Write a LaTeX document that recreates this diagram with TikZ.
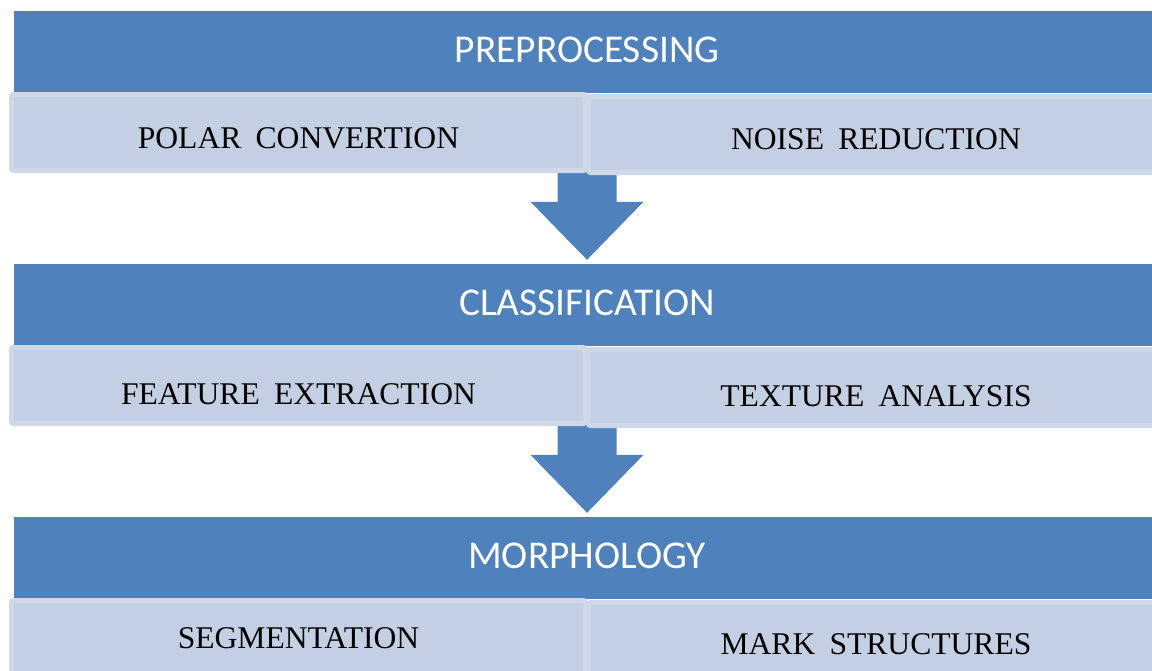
\documentclass[tikz,border=0pt]{standalone}
\usepackage{fontspec}
\setmainfont{Liberation Serif}
\newfontfamily\hdfont{Carlito}
\usetikzlibrary{calc}
\definecolor{bandblue}{HTML}{4F81BD}
\definecolor{subfill}{HTML}{C3CFE2}
\definecolor{subline}{HTML}{CFD8E8}
\tikzset{
  band/.style={fill=bandblue, inner sep=0pt, minimum width=1146pt, minimum height=82pt,
    text=white, font=\hdfont\fontsize{39.4}{39.4}\selectfont, text height=25pt, text depth=3.6pt},
  subbox/.style={draw=subline, line width=5pt, fill=subfill, rounded corners=2pt, inner sep=0pt,
    minimum height=76pt, font=\fontsize{31.6}{31.6}\selectfont, text height=#1, text depth=0pt},
  arrowfill/.style={fill=bandblue}
}
\newcommand\blockdownarrow[1]{%
  \fill[arrowfill] ($(#1.north)+(-29.5,-92)$) -- ($(#1.north)+(29.5,-92)$)
    -- ($(#1.north)+(29.5,-62)$) -- ($(#1.north)+(56.5,-62)$)
    -- ($(#1.north)+(0,-4)$) -- ($(#1.north)+(-56.5,-62)$)
    -- ($(#1.north)+(-29.5,-62)$) -- cycle;}
\begin{document}
\begin{tikzpicture}[x=1pt,y=-1pt]
\useasboundingbox (0,0) rectangle (1152,670);
\clip (0,0) rectangle (1152,670);
% bands
\node[band] (b1) at (587,52) {PREPROCESSING};
\node[band] (b2) at (587,305) {CLASSIFICATION};
\node[band] (b3) at (587,558) {MORPHOLOGY};
% arrows
\blockdownarrow{b2}
\blockdownarrow{b3}
% sub boxes
\node[subbox=31.6pt, minimum width=574pt] (p1) at (298.5,132.5) {POLAR\hspace{0.45em}CONVERTION};
\node[subbox=29.6pt, minimum width=575pt] (p2) at (876,134.5) {NOISE\hspace{0.45em}REDUCTION};
\node[subbox=37pt, minimum width=574pt] (c1) at (298.5,385.5) {FEATURE\hspace{0.45em}EXTRACTION};
\node[subbox=37pt, minimum width=575pt] (c2) at (876,387.5) {TEXTURE\hspace{0.45em}ANALYSIS};
\node[subbox=19pt, minimum width=574pt] (m1) at (298.5,638.5) {SEGMENTATION};
\node[subbox=27pt, minimum width=575pt] (m2) at (876,640.5) {MARK\hspace{0.45em}STRUCTURES};
\end{tikzpicture}
\end{document}
